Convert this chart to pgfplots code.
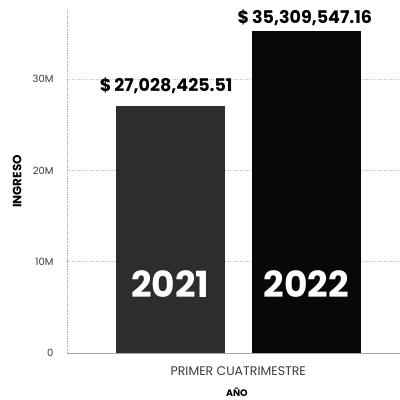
\documentclass[border=0pt]{standalone}
\usepackage{pgfplots}
\pgfplotsset{compat=1.18}
\usepackage{fontspec}
\setmainfont{Poppins}
\definecolor{bara}{HTML}{2D2D2D}
\definecolor{barb}{HTML}{080808}
\definecolor{tick}{HTML}{3A3A3A}
\begin{document}
\begin{tikzpicture}[x=1pt,y=1pt]
\useasboundingbox (0,0) rectangle (400,400);
\begin{axis}[
  at={(67pt,47pt)}, anchor=south west,
  scale only axis, width=333pt, height=343pt,
  xmin=-0.76, xmax=1.69, ymin=0, ymax=37.57,
  ybar, bar width=0.8, bar shift=0pt,
  axis x line=bottom, axis y line=left,
  axis line style={-},
  x axis line style={draw=gray!70, line width=0.8pt},
  y axis line style={draw=gray!70, densely dotted, line width=0.8pt},
  ymajorgrids, grid style={gray!55, dotted, line width=0.6pt},
  ytick={0,10,20,30}, yticklabels={0,10M,20M,30M},
  xtick={0.5}, xticklabels={PRIMER CUATRIMESTRE},
  major tick length=0pt,
  yticklabel style={font=\fontsize{10}{12}\selectfont, text=tick, xshift=-10pt},
  xticklabel style={font=\fontsize{12.5}{14}\selectfont, text=tick, yshift=-10pt},
  /pgf/number format/assume math mode=true,
  ylabel={\textbf{INGRESO}},
  ylabel style={font=\fontsize{12}{14}\selectfont, at={(axis description cs:-0.150,0.5)}, anchor=center},
  xlabel={\textbf{AÑO}},
  xlabel style={font=\fontsize{9.5}{11}\selectfont, at={(axis cs:0.49,0)}, anchor=base, yshift=-43pt},
  clip=false,
]
\addplot[fill=bara, draw=none] coordinates {(0,27.02842551)};
\addplot[fill=barb, draw=none] coordinates {(1,35.30954716)};
\node[font=\bfseries\fontsize{17.5}{20}\selectfont, anchor=base] at (axis cs:-0.03,28.6) {\$\,27,028,425.51};
\node[font=\bfseries\fontsize{17.5}{20}\selectfont, anchor=base] at (axis cs:0.99,36.13) {\$\,35,309,547.16};
\node[font=\bfseries\fontsize{36}{40}\selectfont, text=white] at (axis cs:0,7.56) {2021};
\node[font=\bfseries\fontsize{36}{40}\selectfont, text=white] at (axis cs:1,7.56) {2022};
\end{axis}
\end{tikzpicture}
\end{document}
